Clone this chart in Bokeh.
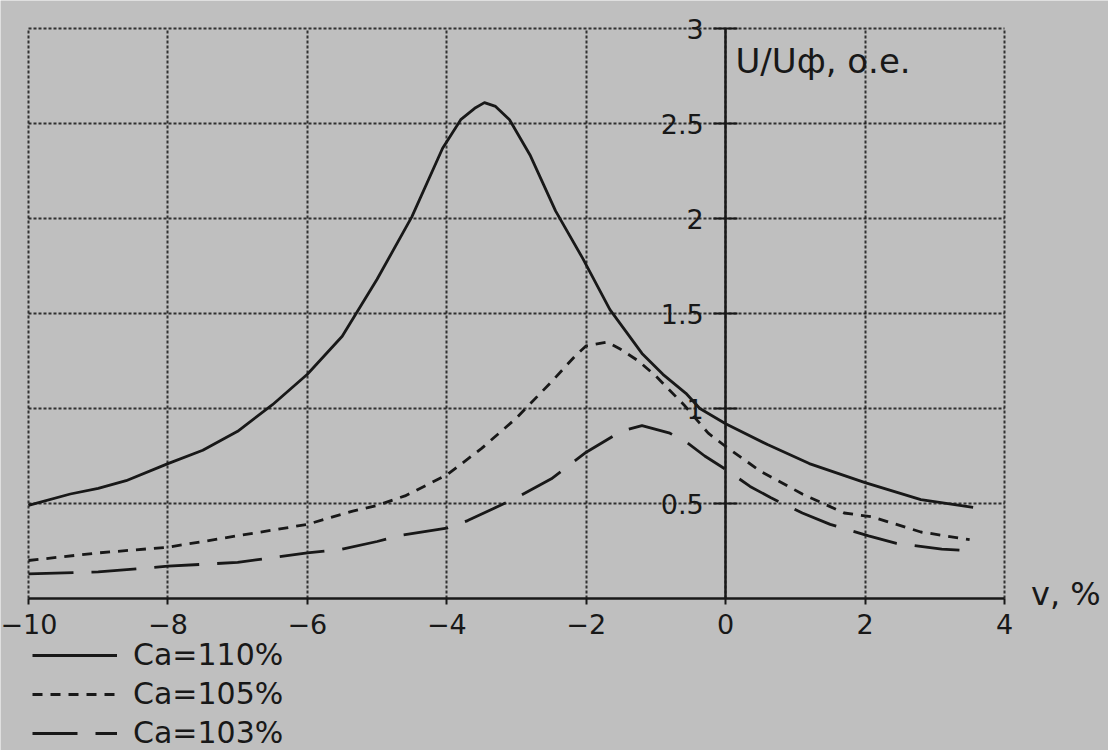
from bokeh.plotting import figure
from bokeh.models import Label, Legend, LegendItem, FixedTicker
from bokeh.embed import file_html
from bokeh.resources import INLINE

# --- data ---
x_110 = [-10, -9.4, -9, -8.6, -8, -7.5, -7, -6.5, -6, -5.5, -5.25, -5, -4.5, -4.06, -3.8, -3.6,
         -3.46, -3.3, -3.1, -2.8, -2.44, -2.05, -1.66, -1.2, -0.9, -0.57, -0.37, 0, 0.6, 1.2,
         2, 2.8, 3.55]
y_110 = [0.49, 0.55, 0.58, 0.62, 0.71, 0.78, 0.88, 1.02, 1.18, 1.38, 1.53, 1.68, 2.01, 2.37, 2.52, 2.58,
         2.61, 2.59, 2.52, 2.33, 2.04, 1.79, 1.52, 1.29, 1.18, 1.08, 1.00, 0.92, 0.81, 0.71,
         0.61, 0.52, 0.48]

x_105 = [-10, -9, -8, -7, -6, -5.35, -5, -4.6, -4, -3.5, -3, -2.5, -2.15, -2, -1.7, -1.5, -1.25,
         -1, -0.6, -0.25, 0, 0.5, 1.1, 1.7, 2.1, 2.8, 3.5]
y_105 = [0.20, 0.24, 0.27, 0.33, 0.39, 0.46, 0.49, 0.54, 0.65, 0.79, 0.95, 1.14, 1.28, 1.33, 1.35, 1.31, 1.25,
         1.17, 1.02, 0.87, 0.80, 0.67, 0.55, 0.45, 0.43, 0.35, 0.31]

x_103 = [-10, -9, -8, -7, -6, -5.5, -5, -4.7, -4, -3.7, -3, -2.5, -2, -1.5, -1.2, -0.8, -0.55,
         -0.3, 0, 0.35, 0.65, 1.1, 1.5, 2.05, 2.45, 3.1, 3.55]
y_103 = [0.13, 0.14, 0.17, 0.19, 0.24, 0.26, 0.30, 0.33, 0.37, 0.41, 0.53, 0.63, 0.77, 0.88, 0.91, 0.87, 0.82,
         0.75, 0.68, 0.59, 0.53, 0.45, 0.39, 0.33, 0.29, 0.26, 0.25]

series_labels = ["Ca=110%", "Ca=105%", "Ca=103%"]
x_ticks = [-10, -8, -6, -4, -2, 0, 2, 4]
x_tick_labels = ["−10", "−8", "−6", "−4", "−2", "0", "2", "4"]
y_ticks = [0.5, 1, 1.5, 2, 2.5, 3]
y_tick_labels = ["0.5", "1", "1.5", "2", "2.5", "3"]
y_title = "U/Uф, о.е."
x_title = "v, %"

X_MIN, X_MAX = -10, 4
Y_MIN, Y_MAX = 0, 3

INK = "#181818"
PAPER = "#bfbfbf"
FONT = "DejaVu Sans"

# the frame fills the whole page; the chart box (-10..4, 0..3) sits inside it
PX_X = 976 / 14.0   # pixels per x unit
PX_Y = 190.0        # pixels per y unit
p = figure(width=1108, height=750,
           x_range=(X_MIN - 28 / PX_X, X_MAX + 104 / PX_X),
           y_range=(Y_MIN - 152 / PX_Y, Y_MAX + 28 / PX_Y),
           output_backend="svg", toolbar_location=None,
           min_border=0)
p.background_fill_color = PAPER
p.border_fill_color = PAPER
p.outline_line_color = None

# grid (dotted), limited to the chart box
p.xgrid.ticker = FixedTicker(ticks=x_ticks)
p.ygrid.ticker = FixedTicker(ticks=y_ticks)
p.xgrid.cross_bounds = (Y_MIN, Y_MAX)
p.ygrid.cross_bounds = (X_MIN, X_MAX)
p.grid.grid_line_color = INK
p.grid.grid_line_dash = "3 2"
p.grid.grid_line_width = 2
p.grid.grid_line_alpha = 0.85

# x axis along y = 0
xa = p.xaxis[0]
xa.fixed_location = 0
xa.bounds = (X_MIN, X_MAX)
xa.ticker = FixedTicker(ticks=x_ticks)
xa.major_label_overrides = {t: s for t, s in zip(x_ticks, x_tick_labels)}
xa.axis_line_color = INK
xa.axis_line_width = 2.5
xa.major_tick_line_color = INK
xa.major_tick_line_width = 2
xa.major_tick_in = 0
xa.major_tick_out = 6
xa.minor_tick_line_color = None
xa.major_label_standoff = 9
xa.major_label_text_font = FONT
xa.major_label_text_font_size = "27px"
xa.major_label_text_color = INK

# y axis through x = 0
ya = p.yaxis[0]
ya.fixed_location = 0
ya.bounds = (Y_MIN, Y_MAX)
ya.ticker = FixedTicker(ticks=y_ticks)
ya.major_label_overrides = {t: s for t, s in zip(y_ticks, y_tick_labels)}
ya.axis_line_color = INK
ya.axis_line_width = 2.5
ya.major_tick_line_color = INK
ya.major_tick_line_width = 2
ya.major_tick_in = 12
ya.major_tick_out = 12
ya.minor_tick_line_color = None
ya.major_label_standoff = 10
ya.major_label_text_font = FONT
ya.major_label_text_font_size = "27px"
ya.major_label_text_color = INK

# curves
r1 = p.line(x_110, y_110, line_color=INK, line_width=2.8, line_join="round")
r2 = p.line(x_105, y_105, line_color=INK, line_width=2.8, line_dash="10 8")
r3 = p.line(x_103, y_103, line_color=INK, line_width=2.8, line_dash="45 18")

# axis titles
p.add_layout(Label(x=0.14, y=2.83, text=y_title, text_font=FONT, text_font_size="34px",
                   text_color=INK, text_baseline="alphabetic"))
p.add_layout(Label(x=4.38, y=0.026, text=x_title, text_font=FONT, text_font_size="32px",
                   text_color=INK, text_baseline="alphabetic"))

legend = Legend(items=[LegendItem(label=series_labels[0], renderers=[r1]),
                       LegendItem(label=series_labels[1], renderers=[r2]),
                       LegendItem(label=series_labels[2], renderers=[r3])],
                location=(32, 0), orientation="vertical",
                glyph_width=85, glyph_height=30, label_height=30, spacing=4,
                padding=0, margin=0, label_standoff=16,
                label_text_font=FONT, label_text_font_size="30px", label_text_color=INK,
                border_line_alpha=0, background_fill_alpha=0)
p.add_layout(legend, "center")

open("out.html", "w").write(file_html(p, INLINE))
